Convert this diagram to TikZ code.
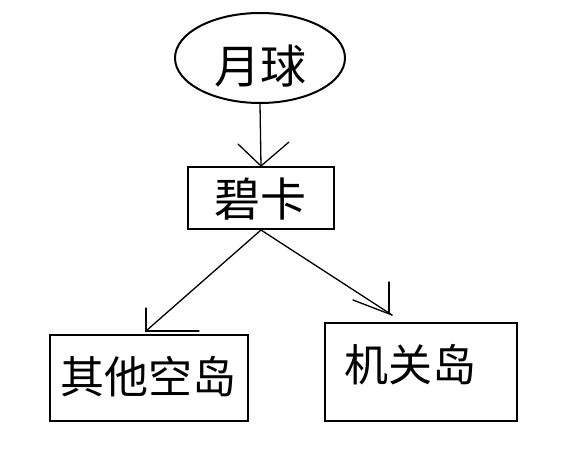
\documentclass[tikz,border=0pt]{standalone}
\usepackage{fontspec}
\newfontfamily\cjk{Noto Sans CJK SC}
\usetikzlibrary{shapes.geometric}
\begin{document}
\begin{tikzpicture}[x=1pt,y=-1pt,
  outl/.style={draw,line width=2pt,inner sep=0pt},
  boxshape/.style={outl,rectangle},
  oval/.style={outl,ellipse},
  lbl/.style={font=\cjk\fontsize{44}{44}\selectfont,inner sep=0pt},
  biglbl/.style={font=\cjk\fontsize{46}{46}\selectfont,inner sep=0pt},
  conn/.style={line width=1.3pt,line cap=round},
]
\useasboundingbox[fill=white] (0,0) rectangle (568,462);
\node[oval,minimum width=170pt,minimum height=90pt] (moon) at (260,58) {};
\node[boxshape,minimum width=146pt,minimum height=62pt] (bika) at (261,198) {};
\node[boxshape,minimum width=198pt,minimum height=86pt] (other) at (149,378) {};
\node[boxshape,minimum width=192pt,minimum height=98pt] (jiguan) at (421,372) {};
\node[biglbl] (moonT) at (260,66) {月球};
\node[biglbl] (bikaT) at (260,199) {碧卡};
\node[lbl] (otherT) at (148,377) {其他空岛};
\node[lbl] (jiguanT) at (410,365) {机关岛};
% connector moon -> bika
\draw[conn] (moon.south) -- (bika.north);
\coordinate (aL) at (238,144);
\coordinate (aR) at (289,142);
\draw[conn] (aL) -- (bika.north) -- (aR);
% connector bika -> other
\coordinate (tipL) at (146,331);
\draw[conn] (bika.south) -- (tipL);
\coordinate (lUp) at (146,308);
\coordinate (lRt) at (199,331);
\draw[conn] (lUp) -- (tipL) -- (lRt);
% connector bika -> jiguan
\coordinate (tipR) at (392,315);
\draw[conn] (bika.south) -- (tipR);
\coordinate (rUp) at (389,282);
\coordinate (rDn) at (389,313);
\coordinate (rLf) at (353,300);
\draw[conn] (rUp) -- (rDn);
\draw[conn] (rLf) -- (tipR);
\end{tikzpicture}
\end{document}
